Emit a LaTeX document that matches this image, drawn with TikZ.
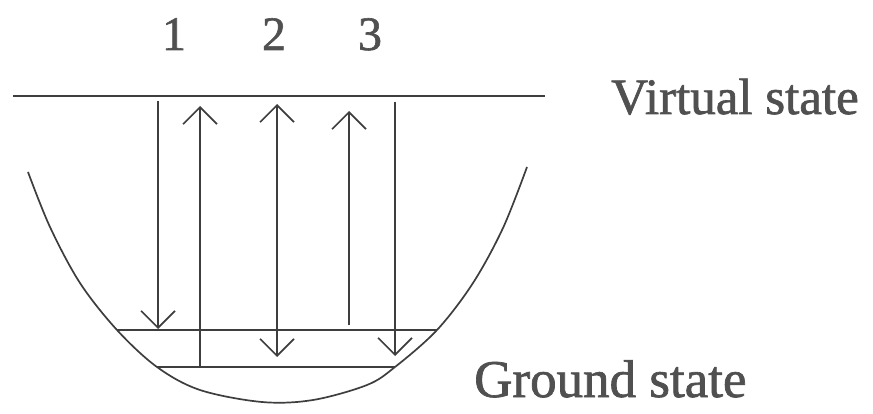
\documentclass[tikz,border=0pt]{standalone}
\usepackage{fontspec}
\setmainfont{Liberation Serif}
\newfontfamily\heavyserif[FakeBold=1.3]{Liberation Serif}
\usetikzlibrary{arrows.meta}
\definecolor{ink}{RGB}{62,62,62}
\definecolor{txt}{RGB}{80,80,80}
\begin{document}
\begin{tikzpicture}[x=1pt,y=-1pt,
  lvl/.style={draw=ink,line width=1.7pt},
  tr/.style={draw=ink,line width=1.7pt,-{Straight Barb[length=17pt,width=34pt,line width=1.6pt]}},
  trb/.style={draw=ink,line width=1.7pt,{Straight Barb[length=17pt,width=34pt,line width=1.6pt]}-{Straight Barb[length=17pt,width=34pt,line width=1.6pt]}},
  lab/.style={text=txt,inner sep=0pt,anchor=base west,font=\heavyserif\fontsize{51}{60}\selectfont},
  num/.style={text=txt,inner sep=0pt,anchor=base,font=\heavyserif\fontsize{48}{58}\selectfont}]
\useasboundingbox (0,0) rectangle (873,414);
% levels
\coordinate (vL) at (13,96);
\coordinate (vR) at (545,96);
\coordinate (mL) at (117,330);
\coordinate (mR) at (437,330);
\coordinate (gL) at (157,367);
\coordinate (gR) at (395,367);
\draw[lvl] (vL) -- (vR);
\draw[lvl] (mL) -- (mR);
\draw[lvl] (gL) -- (gR);
% potential curve
\draw[lvl] plot[smooth,tension=0.55] coordinates {(28,172) (50,227) (80,283) (117,330) (157,367) (200,390) (262,402) (313,400) (367,385) (395,367) (437,330) (473,283) (503,228) (527,167)};
% transition end points
\coordinate (a1t) at (158,101);
\coordinate (a1b) at (158,329);
\coordinate (b1t) at (200,106);
\coordinate (b1b) at (200,367);
\coordinate (a2t) at (277,104);
\coordinate (a2b) at (277,357);
\coordinate (a3t) at (349,111);
\coordinate (a3b) at (349,325);
\coordinate (b3t) at (395,102);
\coordinate (b3b) at (395,356);
\draw[tr] (a1t) -- (a1b);
\draw[tr] (b1b) -- (b1t);
\draw[trb] (a2t) -- (a2b);
\draw[tr] (a3b) -- (a3t);
\draw[tr] (b3t) -- (b3b);
% labels
\node[num] (n1) at (174,50) {1};
\node[num] (n2) at (274,50) {2};
\node[num] (n3) at (370,50) {3};
\node[lab] (vs) at (611,114) {Virtual state};
\node[lab,font=\heavyserif\fontsize{53}{60}\selectfont] (gs) at (474,397) {Ground state};
\end{tikzpicture}
\end{document}
